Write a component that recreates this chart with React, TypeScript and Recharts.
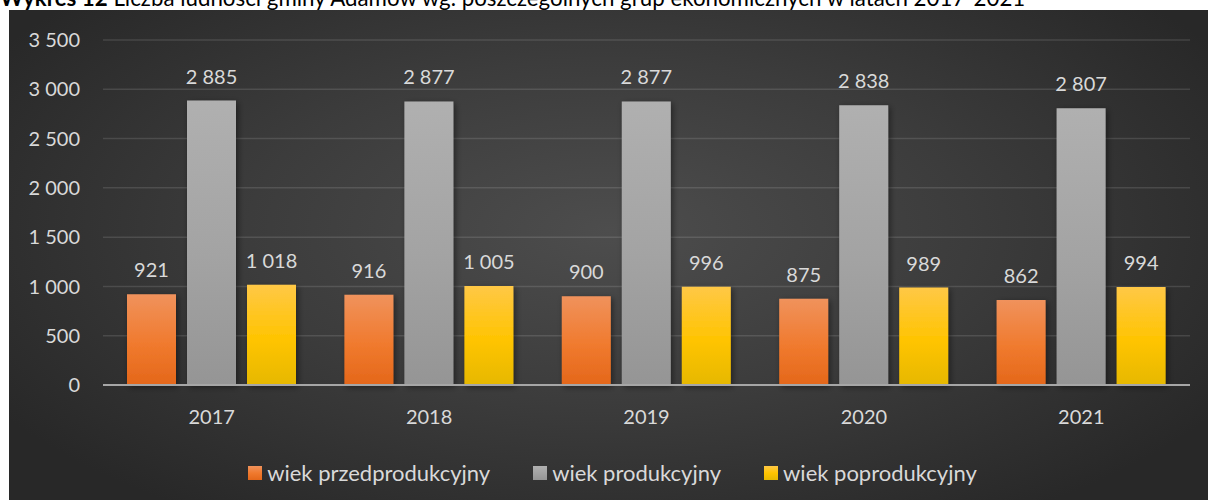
import React from 'react';
import { BarChart, Bar, XAxis, YAxis, CartesianGrid, LabelList, Legend } from 'recharts';

const years = ['2017', '2018', '2019', '2020', '2021'];
const przedprodukcyjny = [921, 916, 900, 875, 862];
const produkcyjny = [2885, 2877, 2877, 2838, 2807];
const poprodukcyjny = [1018, 1005, 996, 989, 994];
const yTicks = [0, 500, 1000, 1500, 2000, 2500, 3000, 3500];
const seriesKeys = ['przed', 'prod', 'poprod'];
const seriesNames = ['wiek przedprodukcyjny', 'wiek produkcyjny', 'wiek poprodukcyjny'];
const titleBold = 'Wykres 12';
const titleRest = ' Liczba ludności gminy Adamów wg. poszczególnych grup ekonomicznych w latach 2017-2021';

const data = years.map((y, i) => ({
  year: y,
  przed: przedprodukcyjny[i],
  prod: produkcyjny[i],
  poprod: poprodukcyjny[i],
}));

const FONT = 'Lato, sans-serif';
const TEXT = '#d9d9d9';

const gradients: Record<string, [string, string, string]> = {
  przed: ['#f0925c', '#f07a2e', '#e4671a'],
  prod: ['#b0b0b0', '#a3a3a3', '#959595'],
  poprod: ['#ffc846', '#ffc400', '#e6b800'],
};

const fmt = (v: any) => String(v).replace(/\B(?=(\d{3})+(?!\d))/g, ' ');

const renderLegend = (props: any) => {
  const payload = [...(props.payload || [])].sort(
    (a: any, b: any) => seriesKeys.indexOf(a.dataKey) - seriesKeys.indexOf(b.dataKey)
  );
  return (
    <div style={{ height: 45, display: 'flex', justifyContent: 'center', alignItems: 'flex-start', paddingTop: 6, paddingLeft: 26, boxSizing: 'border-box', fontFamily: FONT, fontSize: 22, color: TEXT }}>
      {payload.map((p: any, i: number) => {
        const g = gradients[p.dataKey as string] || ['#888', '#888', '#888'];
        return (
          <div key={i} style={{ display: 'flex', alignItems: 'center', marginRight: i < payload.length - 1 ? 43 : 0 }}>
            <div style={{ width: 14, height: 14, marginRight: 5, background: `linear-gradient(${g[0]}, ${g[1]} 50%, ${g[2]})` }} />
            <span style={{ lineHeight: '24px' }}>{p.value}</span>
          </div>
        );
      })}
    </div>
  );
};

export default function App() {
  return (
    <div style={{ position: 'absolute', left: 0, top: 0, width: 1208, height: 500, background: '#fff', overflow: 'hidden' }}>
      <svg width={1208} height={10} style={{ position: 'absolute', left: 0, top: 0 }}>
        <text x={0} y={6} fontFamily={FONT} fontSize={22.3} fill="#000">
          <tspan fontWeight="bold">{titleBold}</tspan>
          <tspan>{titleRest}</tspan>
        </text>
      </svg>
      <div
        style={{
          position: 'absolute',
          left: 9,
          top: 10,
          width: 1199,
          height: 490,
          background: 'radial-gradient(ellipse 60% 70% at 50% 45%, #4d4d4d 0%, #3c3c3c 50%, #282828 100%)',
        }}
      >
        <BarChart
          width={1199}
          height={490}
          data={data}
          margin={{ top: 30, right: 18, left: 0, bottom: 0 }}
          barCategoryGap={24}
          barGap={11}
        >
          <defs>
            {seriesKeys.map((k) => (
              <linearGradient key={k} id={`grad-${k}`} x1="0" y1="0" x2="0" y2="1">
                <stop offset="0%" stopColor={gradients[k][0]} />
                <stop offset="55%" stopColor={gradients[k][1]} />
                <stop offset="100%" stopColor={gradients[k][2]} />
              </linearGradient>
            ))}
            <filter id="barShadow" x="-20%" y="-10%" width="140%" height="120%">
              <feDropShadow dx="2" dy="2" stdDeviation="3" floodColor="#000" floodOpacity="0.45" />
            </filter>
          </defs>
          <CartesianGrid vertical={false} stroke="rgba(255,255,255,0.12)" strokeWidth={1.5} />
          <XAxis
            dataKey="year"
            height={70}
            tickLine={false}
            tickSize={0}
            tickMargin={25}
            axisLine={{ stroke: '#a6a6a6', strokeWidth: 2 }}
            tick={{ fill: TEXT, fontSize: 20, fontFamily: FONT }}
          />
          <YAxis
            width={94}
            domain={[0, 3500]}
            ticks={yTicks}
            interval={0}
            tickLine={false}
            axisLine={false}
            tickSize={0}
            tickMargin={23}
            tickFormatter={fmt}
            tick={{ fill: TEXT, fontSize: 20, fontFamily: FONT }}
          />
          <Legend verticalAlign="bottom" height={45} content={renderLegend} />
          {seriesKeys.map((k, i) => (
            <Bar
              key={k}
              dataKey={k}
              name={seriesNames[i]}
              fill={`url(#grad-${k})`}
              isAnimationActive={false}
              style={{ filter: 'url(#barShadow)' }}
            >
              <LabelList dataKey={k} position="top" offset={17} formatter={fmt} fill={TEXT} fontSize={20} fontFamily={FONT} />
            </Bar>
          ))}
        </BarChart>
      </div>
    </div>
  );
}
